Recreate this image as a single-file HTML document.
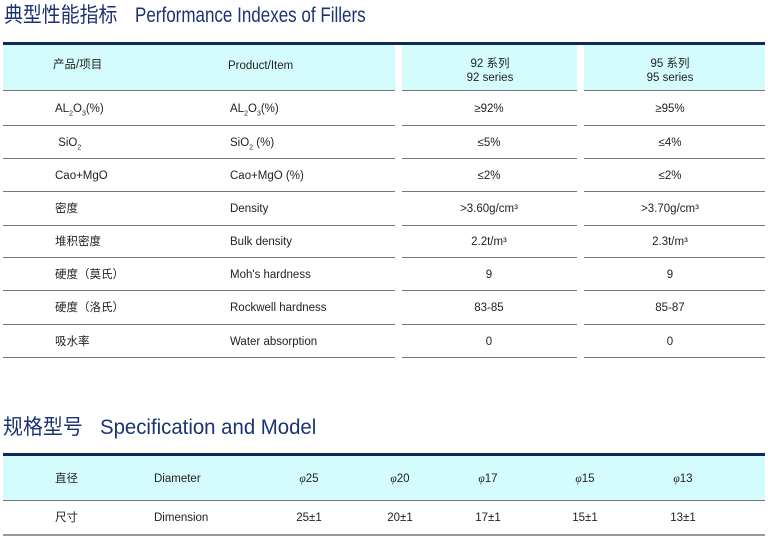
<!DOCTYPE html><html><head><meta charset="utf-8"><style>
body{margin:0;width:768px;height:539px;background:#fff;position:relative;overflow:hidden;font-family:"Liberation Sans","Noto Sans CJK SC",sans-serif;color:#222;font-size:11.5px}
.a{position:absolute;white-space:nowrap;line-height:14px}
.t{color:#1b3373;font-size:21px;line-height:24px;transform-origin:left}
.bar{position:absolute;height:3px;background:#0d2a55}
.bg{position:absolute;background:#d5fcfd}
.ln{position:absolute;height:1px;background:#777}
.c{transform:translateX(-50%);text-align:center}
sub{font-size:7px;line-height:0}
</style></head><body>
<div class="a t" style="left:4px;top:4px;transform:scaleX(0.9)">典型性能指标</div>
<div class="a t" style="left:135px;top:4px;transform:scaleX(0.81)">Performance Indexes of Fillers</div>
<div class="bar" style="left:3px;width:762px;top:42px"></div>
<div class="bg" style="left:3px;width:392px;top:45px;height:45px"></div>
<div class="bg" style="left:402px;width:175px;top:45px;height:45px"></div>
<div class="bg" style="left:584px;width:181px;top:45px;height:45px"></div>
<div class="a" style="left:53px;top:58px">产品/项目</div>
<div class="a" style="left:228px;top:59px">Product/Item</div>
<div class="a c" style="left:490px;top:57px;line-height:14px">92 系列<br>92 series</div>
<div class="a c" style="left:670px;top:57px;line-height:14px">95 系列<br>95 series</div>
<div class="a t" style="left:3px;top:416px;transform:scaleX(0.95)">规格型号</div>
<div class="a t" style="left:100px;top:416px;transform:scaleX(0.97)">Specification and Model</div>
<div class="bar" style="left:3px;width:762px;top:453px"></div>
<div class="bg" style="left:3px;width:762px;top:456px;height:44px"></div>
<div class="ln" style="left:3px;width:762px;top:500px"></div>
<div class="ln" style="left:3px;width:762px;top:534px;height:2px;background:#999"></div>
<div class="a" style="left:55px;top:472px">直径</div><div class="a" style="left:154px;top:472px">Diameter</div>
<div class="a" style="left:55px;top:511px">尺寸</div><div class="a" style="left:154px;top:511px">Dimension</div>
<script>
var d=document.body,h='';
var ys=[90,125,158,191,225,257,290,324,357];
var r=[["AL<sub>2</sub>O<sub>3</sub>(%)","AL<sub>2</sub>O<sub>3</sub>(%)","≥92%","≥95%"],["&nbsp;SiO<sub>2</sub>","SiO<sub>2</sub> (%)","≤5%","≤4%"],["Cao+MgO","Cao+MgO (%)","≤2%","≤2%"],["密度","Density","&gt;3.60g/cm³","&gt;3.70g/cm³"],["堆积密度","Bulk density","2.2t/m³","2.3t/m³"],["硬度（莫氏）","Moh's hardness","9","9"],["硬度（洛氏）","Rockwell hardness","83-85","85-87"],["吸水率","Water absorption","0","0"]];
for(var i=0;i<9;i++){var y=ys[i];h+='<div class="ln" style="left:3px;width:392px;top:'+y+'px"></div><div class="ln" style="left:402px;width:175px;top:'+y+'px"></div><div class="ln" style="left:584px;width:181px;top:'+y+'px"></div>';}
for(var i=0;i<8;i++){var t=(ys[i]+ys[i+1])/2-6;var q=r[i];h+='<div class="a" style="left:55px;top:'+t+'px">'+q[0]+'</div><div class="a" style="left:230px;top:'+t+'px">'+q[1]+'</div><div class="a c" style="left:489px;top:'+t+'px">'+q[2]+'</div><div class="a c" style="left:670px;top:'+t+'px">'+q[3]+'</div>';}
var xs=[309,400,488,585,683],v=["25","20","17","15","13"];
for(var i=0;i<5;i++){h+='<div class="a c" style="left:'+xs[i]+'px;top:472px"><i style="font-family:\'Liberation Serif\',serif">φ</i>'+v[i]+'</div><div class="a c" style="left:'+xs[i]+'px;top:511px">'+v[i]+'±1</div>';}
d.insertAdjacentHTML('beforeend',h);
</script>
</body></html>
